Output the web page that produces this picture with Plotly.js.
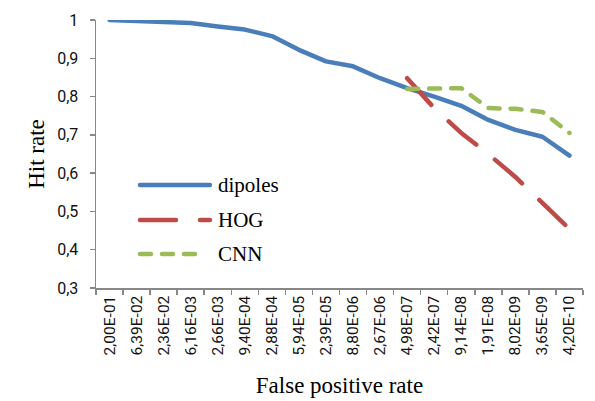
<!DOCTYPE html>
<html>
<head>
<meta charset="utf-8">
<script src="https://cdn.plot.ly/plotly-3.0.1.min.js"></script>
<style>
html,body{margin:0;padding:0;background:#fff;}
#chart{width:595px;height:401px;}
.scatterlayer .js-line{stroke-linecap:round;stroke-linejoin:round;}
.shapelayer path{stroke-linecap:round;}
</style>
</head>
<body>
<div id="chart"></div>
<script>
const categories = ["2,00E-01","6,39E-02","2,36E-02","6,16E-03","2,66E-03","9,40E-04","2,88E-04","5,94E-05","2,39E-05","8,80E-06","2,67E-06","4,98E-07","2,42E-07","9,14E-08","1,91E-08","8,02E-09","3,65E-09","4,20E-10"];
const dipoles = [1.0,0.998,0.995,0.992,0.983,0.975,0.958,0.922,0.892,0.879,0.848,0.822,0.800,0.776,0.739,0.713,0.695,0.646];
const hogCats = categories.slice(11);
const hog = [0.848,0.770,0.705,0.650,0.590,0.520,0.454];
const cnnCats = categories.slice(11);
const cnn = [0.820,0.821,0.822,0.770,0.768,0.760,0.705];
const seriesNames = ["dipoles","HOG","CNN"];
const colors = ["#4A7EBB","#BE4B48","#9BBB59"];
const dashes = ["solid","36px,24px","11px,11px"];

const traces = [
  {x:categories,y:dipoles,name:seriesNames[0],type:"scatter",mode:"lines",line:{color:colors[0],width:4.5,dash:dashes[0]},cliponaxis:false,showlegend:false},
  {x:hogCats,y:hog,name:seriesNames[1],type:"scatter",mode:"lines",line:{color:colors[1],width:4.5,dash:dashes[1]},cliponaxis:false,showlegend:false},
  {x:cnnCats,y:cnn,name:seriesNames[2],type:"scatter",mode:"lines",line:{color:colors[2],width:4.5,dash:dashes[2]},cliponaxis:false,showlegend:false}
];

// manual legend (positions in paper coords)
const legY = [0.384,0.254,0.127];
const legX1 = [0.234,0.234,0.211];
const shapes = [];
const annotations = [];
for (let i=0;i<3;i++){
  shapes.push({type:"line",xref:"paper",yref:"paper",x0:0.0903,x1:legX1[i],y0:legY[i],y1:legY[i],line:{color:colors[i],width:4.5,dash:dashes[i]}});
  annotations.push({xref:"paper",yref:"paper",x:0.2464,y:legY[i],xanchor:"left",yanchor:"middle",text:seriesNames[i],showarrow:false,font:{family:"Liberation Serif",size:21,color:"#000"}});
}

const layout = {
  width:595,height:401,
  margin:{l:96,r:12,t:20,b:113},
  paper_bgcolor:"#fff",plot_bgcolor:"#fff",
  separators:",.",
  showlegend:false,
  xaxis:{
    type:"category",range:[-0.5,17.5],
    showgrid:false,zeroline:false,
    showline:true,linecolor:"#888",linewidth:1.5,
    ticks:"outside",tickson:"boundaries",ticklen:5,tickcolor:"#888",tickwidth:1.5,
    tickangle:-90,
    tickfont:{family:"Roboto",size:15.5,color:"#111"},
    title:{text:"False positive rate",font:{family:"Liberation Serif",size:23,color:"#000"},standoff:22},
    automargin:false
  },
  yaxis:{
    range:[0.3,1.0],dtick:0.1,tick0:0.3,
    showgrid:false,zeroline:false,
    showline:true,linecolor:"#888",linewidth:1.5,
    ticks:"outside",ticklen:5,tickcolor:"#888",tickwidth:1.5,
    tickfont:{family:"Roboto",size:16,color:"#111"},
    ticklabelstandoff:8,
    title:{text:"Hit rate",font:{family:"Liberation Serif",size:23,color:"#000"},standoff:6},
    automargin:false
  },
  shapes:shapes,
  annotations:annotations
};

Plotly.newPlot("chart",traces,layout,{displayModeBar:false,staticPlot:true});
</script>
</body>
</html>
